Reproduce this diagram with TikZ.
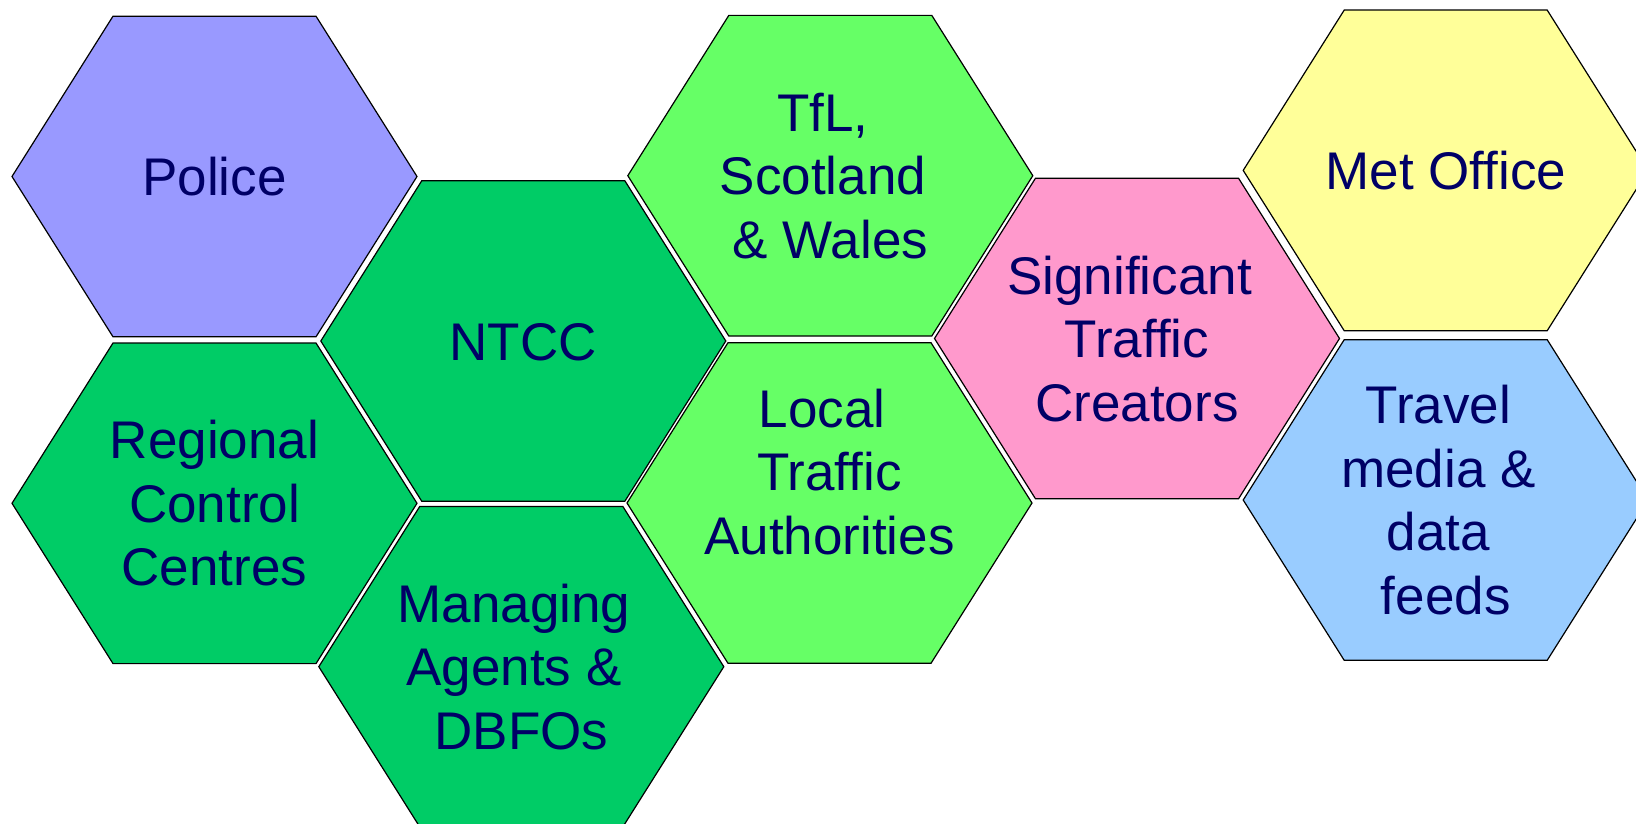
\documentclass[tikz,border=0pt]{standalone}
\usepackage{fontspec}
\setmainfont[Ligatures={NoCommon}]{Liberation Sans}
\definecolor{navytext}{HTML}{000066}
\definecolor{policefill}{HTML}{9999FF}
\definecolor{darkgreen}{HTML}{00CC66}
\definecolor{lightgreen}{HTML}{66FF66}
\definecolor{pinkfill}{HTML}{FF99CC}
\definecolor{yellowfill}{HTML}{FFFF99}
\definecolor{bluefill}{HTML}{99CCFF}
\newcommand\hs{\rule[-7pt]{0pt}{52pt}}
\newcommand\tsp{\kern 14.7pt}
\newcommand\hexat[3]{%
  \draw[hexbox, fill=#1, shift={(#2,#3)}]
    (-202.5,0) -- (-101.5,-160.3) -- (101.5,-160.3) -- (202.5,0)
    -- (101.5,160.3) -- (-101.5,160.3) -- cycle;}
\tikzset{
  hexbox/.style={draw=black, line width=1.2pt, line join=miter},
  hexlabel/.style={text=navytext, font=\fontsize{53}{63.5}\selectfont,
    align=center, inner sep=0pt},
}
\begin{document}
\begin{tikzpicture}[x=1pt, y=-1pt]
\useasboundingbox (0,0) rectangle (1636,824);
\clip (0,0) rectangle (1636,824);
\fill[white] (0,0) rectangle (1636,824);
% hexagons
\hexat{policefill}{214.5}{176.5}
\hexat{darkgreen}{214.5}{503.3}
\hexat{darkgreen}{523.3}{341}
\hexat{darkgreen}{521.3}{666.7}
\hexat{lightgreen}{830.3}{175.7}
\hexat{lightgreen}{829.5}{503}
\hexat{pinkfill}{1137}{338.5}
\hexat{yellowfill}{1445.7}{170.4}
\hexat{bluefill}{1445.7}{500}
% labels
\node[hexlabel] (police) at (214.5,176.5) {\hs Police};
\node[hexlabel] (regional) at (214.5,503.3) {\hs Regional\\ \hs Control\\ \hs Centres};
\node[hexlabel] (ntcc) at (523.3,341) {\hs NTCC};
\node[hexlabel] (managing) at (521.3,666.7) {\hs Managing\tsp\\ \hs Agents \&\tsp\\ \hs DBFOs};
\node[hexlabel] (tfl) at (830.3,175.7) {\hs TfL,\tsp\\ \hs Scotland\tsp\\ \hs \& Wales};
\node[hexlabel] (local) at (829.5,471.8) {\hs Local\tsp\\ \hs Traffic\\ \hs Authorities};
\node[hexlabel] (stc) at (1137,338.5) {\hs Significant\tsp\\ \hs Traffic\\ \hs Creators};
\node[hexlabel] (met) at (1445.7,170.4) {\hs Met Office};
\node[hexlabel] (travel) at (1445.7,500) {\hs Travel\tsp\\ \hs media \&\tsp\\ \hs data\tsp\\ \hs feeds};
\end{tikzpicture}
\end{document}
